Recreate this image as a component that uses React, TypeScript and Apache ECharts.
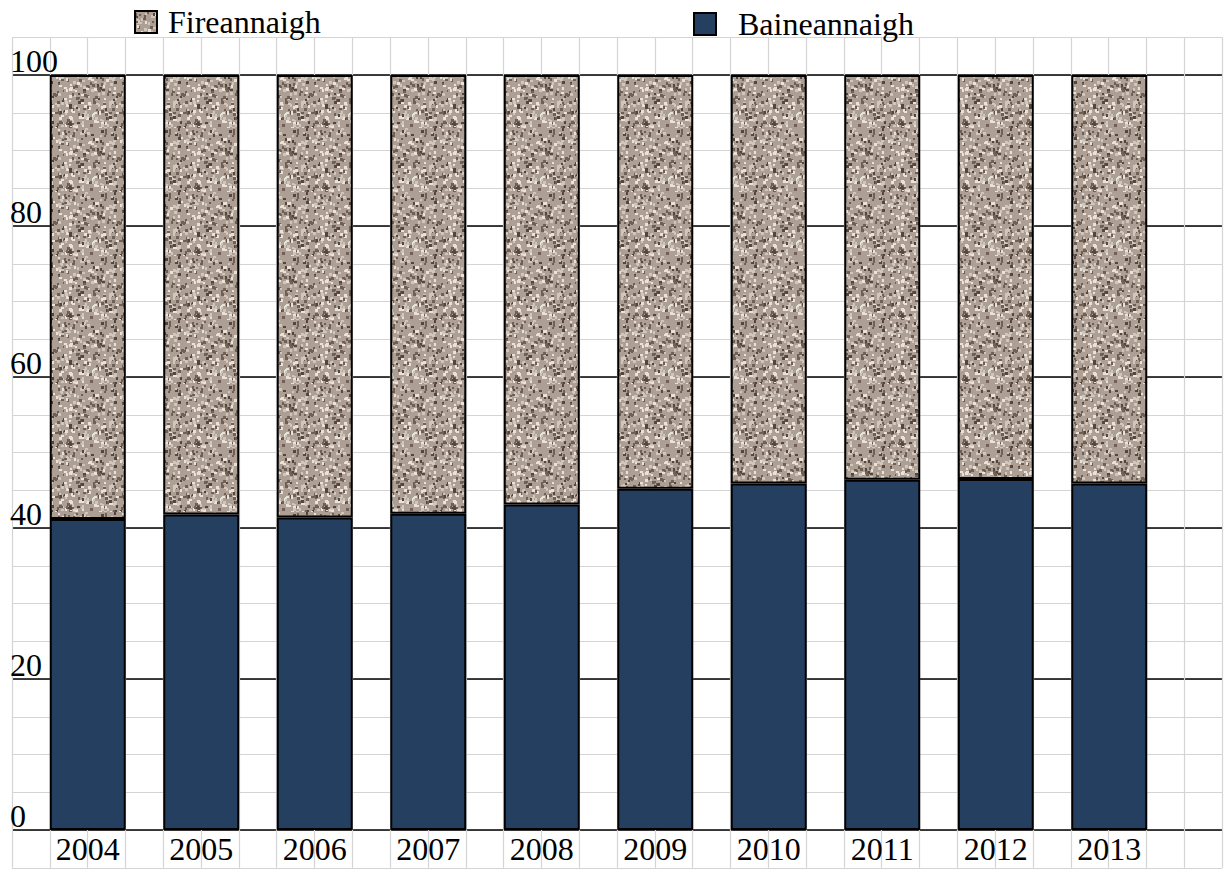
import React, { useEffect, useRef } from "react";
import * as echarts from "echarts";

const years = ["2004", "2005", "2006", "2007", "2008", "2009", "2010", "2011", "2012", "2013"];
const baineannaigh = [41.2, 41.8, 41.4, 41.9, 43.1, 45.2, 45.9, 46.4, 46.5, 45.9];
const fireannaigh = [58.8, 58.2, 58.6, 58.1, 56.9, 54.8, 54.1, 53.6, 53.5, 54.1];
const seriesNames = ["Fireannaigh", "Baineannaigh"];

function hash(n: number) {
  const x = Math.sin(n * 12.9898 + 78.233) * 43758.5453;
  return x - Math.floor(x);
}

function makeTexture(): HTMLCanvasElement {
  const size = 64;
  const raw = document.createElement("canvas");
  raw.width = size;
  raw.height = size;
  const ctx = raw.getContext("2d")!;
  ctx.fillStyle = "#ad9f93";
  ctx.fillRect(0, 0, size, size);
  for (let i = 0; i < 300; i++) {
    const x = Math.floor(hash(i * 3 + 1) * size);
    const y = Math.floor(hash(i * 3 + 2) * size);
    const t = hash(i * 3 + 3);
    ctx.fillStyle = t < 0.3 ? "#6f5f54" : t < 0.45 ? "#55463d" : t < 0.75 ? "#cfc6bc" : "#e9e2da";
    const w = 2 + Math.floor(hash(i * 7 + 5) * 2);
    const h = 2 + Math.floor(hash(i * 11 + 9) * 2);
    ctx.fillRect(x, y, w, h);
  }
  const c = document.createElement("canvas");
  c.width = size;
  c.height = size;
  const ctx2 = c.getContext("2d")!;
  ctx2.fillStyle = "#ad9f93";
  ctx2.fillRect(0, 0, size, size);
  ctx2.filter = "blur(0.6px)";
  ctx2.drawImage(raw, 0, 0);
  return c;
}

export default function App() {
  const ref = useRef<HTMLDivElement>(null);
  useEffect(() => {
    const chart = echarts.init(ref.current!, null, { renderer: "svg" });
    const texture = makeTexture();
    const font = "'Liberation Serif', 'Times New Roman', serif";
    chart.setOption({
      animation: false,
      backgroundColor: "#ffffff",
      legend: [
        {
          data: [seriesNames[0]],
          icon: "rect",
          left: 134,
          top: 6,
          padding: 0,
          itemWidth: 22,
          itemHeight: 22,
          textStyle: { fontSize: 32, fontFamily: font, color: "#000", padding: [0, 0, 0, 6] },
        },
        {
          data: [seriesNames[1]],
          icon: "rect",
          left: 693,
          top: 8,
          padding: 0,
          itemWidth: 22,
          itemHeight: 22,
          textStyle: { fontSize: 32, fontFamily: font, color: "#000", padding: [0, 0, 0, 17] },
        },
      ],
      grid: [
        { left: 12, top: 37.25, width: 1210, height: 830.5 },
        { left: 31, top: 75, width: 1135, height: 755 },
        { left: 12, top: 75, width: 1210, height: 755 },
      ],
      xAxis: [
        {
          type: "value", gridIndex: 0, min: 0, max: 32, interval: 1,
          axisLine: { show: false }, axisTick: { show: false }, axisLabel: { show: false },
          splitLine: { show: true, lineStyle: { color: "#d4d4d4", width: 1.2 } },
        },
        {
          type: "category", gridIndex: 1, data: years,
          axisLine: { show: false }, axisTick: { show: false },
          axisLabel: { fontSize: 32, fontFamily: font, color: "#000", margin: 7, lineHeight: 24 },
          splitLine: { show: false },
        },
        {
          type: "value", gridIndex: 2, min: 0, max: 1, show: false,
          splitLine: { show: false },
        },
      ],
      yAxis: [
        {
          type: "value", gridIndex: 0, min: -5, max: 105, interval: 5,
          axisLine: { show: false }, axisTick: { show: false }, axisLabel: { show: false },
          splitLine: { show: true, lineStyle: { color: "#d4d4d4", width: 1.2 } },
        },
        {
          type: "value", gridIndex: 1, min: 0, max: 100, show: false,
          splitLine: { show: false },
        },
        {
          type: "value", gridIndex: 2, min: 0, max: 100, interval: 20,
          axisLine: { show: false }, axisTick: { show: false },
          axisLabel: {
            fontSize: 32, fontFamily: font, color: "#000", align: "left",
            verticalAlign: "bottom", margin: 2, lineHeight: 28,
          },
          splitLine: { show: true, lineStyle: { color: "#000", width: 1.5 } },
        },
      ],
      series: [
        {
          name: seriesNames[1], type: "bar", stack: "total", xAxisIndex: 1, yAxisIndex: 1,
          data: baineannaigh, barWidth: 76,
          itemStyle: { color: "#243f60", borderColor: "#000", borderWidth: 2 },
        },
        {
          name: seriesNames[0], type: "bar", stack: "total", xAxisIndex: 1, yAxisIndex: 1,
          data: fireannaigh, barWidth: 76,
          itemStyle: {
            color: { image: texture, repeat: "repeat" },
            borderColor: "#000", borderWidth: 2,
          },
        },
      ],
    });
    return () => chart.dispose();
  }, []);
  return (
    <div
      ref={ref}
      style={{ position: "fixed", left: 0, top: 0, width: 1226, height: 869 }}
    />
  );
}
